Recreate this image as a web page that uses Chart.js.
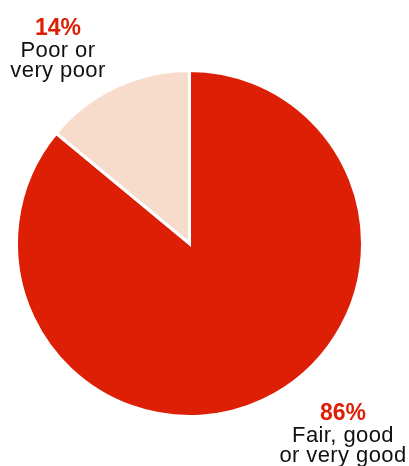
<!DOCTYPE html>
<html>
<head>
<meta charset="utf-8">
<script src="https://cdn.jsdelivr.net/npm/chart.js@4"></script>
<style>
  html, body { margin: 0; padding: 0; background: #fff; }
  #wrap { width: 409px; height: 466px; }
</style>
</head>
<body>
<div id="wrap"><canvas id="pie" width="409" height="466"></canvas></div>
<script>
const categories = [["Fair, good", "or very good"], ["Poor or", "very poor"]];
const shares = [86, 14];
const sliceColors = ["#dc1f05", "#f8dccb"];

// label anchor (centre x, baseline of the % line) for each slice, in canvas pixels
const labelSpots = [{ x: 343, y: 420 }, { x: 58, y: 35 }];

const SliceLabels = {
  id: "sliceLabels",
  afterDraw(chart) {
    const { ctx } = chart;
    const values = chart.data.datasets[0].data;
    ctx.save();
    ctx.textAlign = "center";
    ctx.textBaseline = "alphabetic";
    values.forEach((v, i) => {
      const spot = labelSpots[i];
      ctx.letterSpacing = "0px";
      ctx.fillStyle = "#dc1f05";
      ctx.font = "bold 23px 'Liberation Sans', Arial, sans-serif";
      ctx.fillText(v + "%", spot.x, spot.y);
      ctx.fillStyle = "#111";
      ctx.letterSpacing = "0.4px";
      ctx.font = "22px 'Liberation Sans', Arial, sans-serif";
      chart.data.labels[i].forEach((line, j) => {
        ctx.fillText(line, spot.x, spot.y + 22 + 19.5 * j);
      });
    });
    ctx.restore();
  }
};

new Chart(document.getElementById("pie"), {
  type: "pie",
  data: {
    labels: categories,
    datasets: [{
      data: shares,
      backgroundColor: sliceColors,
      borderColor: "#fff",
      borderWidth: 3,
      borderJoinStyle: "miter"
    }]
  },
  options: {
    responsive: false,
    animation: false,
    layout: { padding: { left: 15, right: 45, top: 69, bottom: 48 } },
    plugins: {
      legend: { display: false },
      tooltip: { enabled: false }
    }
  },
  plugins: [SliceLabels]
});
</script>
</body>
</html>
